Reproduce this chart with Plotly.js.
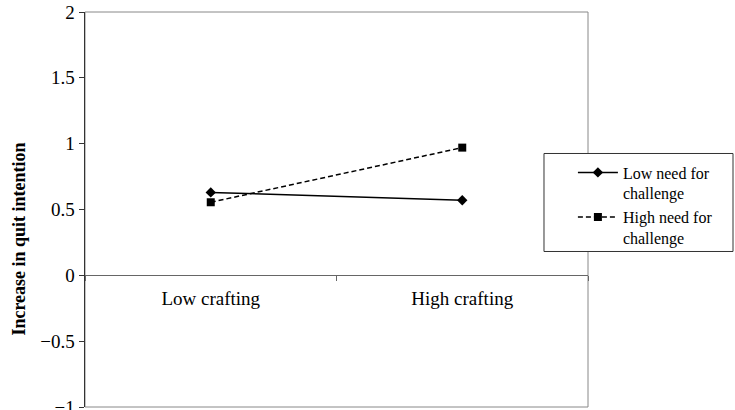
<!DOCTYPE html>
<html>
<head>
<meta charset="utf-8">
<script src="https://cdn.plot.ly/plotly-3.0.1.min.js"></script>
<style>html,body{margin:0;padding:0;background:#fff;}#chart{width:735px;height:410px;}</style>
</head>
<body>
<div id="chart"></div>
<script>
const categories = ["Low crafting", "High crafting"];
const lowNeed = [0.63, 0.57];
const highNeed = [0.555, 0.97];
const seriesNames = ["Low need for<br>challenge", "High need for<br>challenge"];
const yTickVals = [-1, -0.5, 0, 0.5, 1, 1.5, 2];
const yTickText = ["−1", "−0.5", "0", "0.5", "1", "1.5", "2"];
const yTitle = "Increase in quit intention";

const serif = "Liberation Serif, Times New Roman, serif";

const traces = [
  {
    x: categories, y: lowNeed, name: seriesNames[0], type: "scatter", mode: "lines+markers",
    line: {color: "#000", width: 1.5},
    marker: {symbol: "diamond", size: 8, color: "#000"}
  },
  {
    x: categories, y: highNeed, name: seriesNames[1], type: "scatter", mode: "lines+markers",
    line: {color: "#000", width: 1.5, dash: "5px,3px"},
    marker: {symbol: "square", size: 8, color: "#000"}
  }
];

const layout = {
  width: 735, height: 410,
  margin: {l: 85, r: 147, t: 12, b: 3},
  paper_bgcolor: "#fff", plot_bgcolor: "#fff",
  showlegend: true,
  legend: {
    x: 0.970, y: 0.6367, xanchor: "left", yanchor: "top",
    borderwidth: 0, bgcolor: "rgba(0,0,0,0)",
    font: {family: serif, size: 16, color: "#000"},
    valign: "top", itemwidth: 40,
    tracegroupgap: 6
  },
  xaxis: {
    type: "category", range: [-0.5, 1.5],
    anchor: "free", position: 1/3,
    showline: true, linecolor: "#666", linewidth: 1,
    ticks: "outside", tickson: "boundaries", ticklen: 5, tickcolor: "#666",
    showgrid: false, zeroline: false, ticklabelstandoff: 6,
    tickfont: {family: serif, size: 19, color: "#000"}
  },
  yaxis: {
    range: [-1, 2], tickvals: yTickVals, ticktext: yTickText,
    showline: true, linecolor: "#333", linewidth: 1.5,
    ticks: "outside", ticklen: 5, tickcolor: "#333",
    showgrid: false, zeroline: false, ticklabeloverflow: "allow",
    tickfont: {family: serif, size: 19, color: "#000"}
  },
  annotations: [
    {text: "<b>" + yTitle + "</b>", xref: "paper", yref: "paper", x: -0.133, y: 0.424,
     textangle: -90, showarrow: false, xanchor: "center", yanchor: "middle",
     font: {family: serif, size: 18, color: "#000"}}
  ],
  shapes: [
    {type: "rect", xref: "paper", yref: "paper", x0: 0, x1: 1, y0: 0, y1: 1,
     line: {color: "#888", width: 1}, layer: "below"},
    {type: "rect", xref: "paper", yref: "paper", x0: 0.9125, x1: 1.2883, y0: 0.3937, y1: 0.6418,
     line: {color: "#333", width: 1}, fillcolor: "#fff", layer: "above"}
  ]
};

Plotly.newPlot("chart", traces, layout, {displayModeBar: false, staticPlot: true});
</script>
</body>
</html>
